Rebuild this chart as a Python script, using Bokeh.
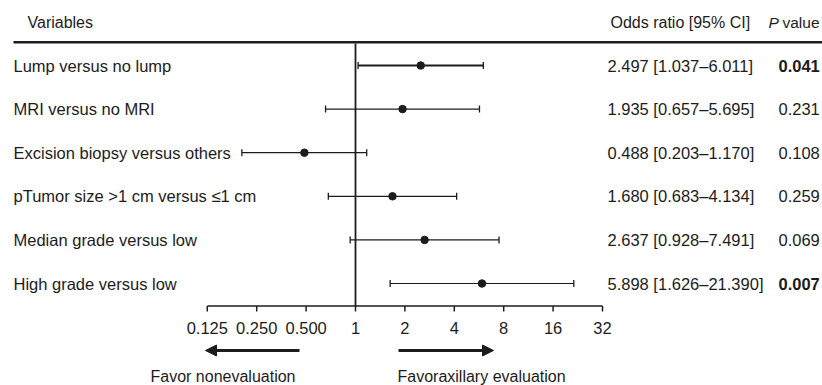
import numpy as np
from bokeh.plotting import figure
from bokeh.models import Range1d, ColumnDataSource, Arrow, NormalHead
from bokeh.core.properties import value
from bokeh.embed import file_html
from bokeh.resources import INLINE

# ---- data ----
variables = ["Lump versus no lump", "MRI versus no MRI", "Excision biopsy versus others",
             "pTumor size >1 cm versus \u22641 cm", "Median grade versus low", "High grade versus low"]
odds = [2.497, 1.935, 0.488, 1.680, 2.637, 5.898]
lower = [1.037, 0.657, 0.203, 0.683, 0.928, 1.626]
upper = [6.011, 5.695, 1.170, 4.134, 7.491, 21.390]
p_values = [0.041, 0.231, 0.108, 0.259, 0.069, 0.007]
ticks = [0.125, 0.25, 0.5, 1, 2, 4, 8, 16, 32]
tick_labels = ["0.125", "0.250", "0.500", "1", "2", "4", "8", "16", "32"]
left_note = "Favor nonevaluation"
right_note = "Favoraxillary evaluation"

W, H = 822, 385
X1PX, PX_PER_DOUBLING = 355, 49.4
ROW0PX, ROWPX = 65, 43.6

def px2x(px):
    return 2 ** ((px - X1PX) / PX_PER_DOUBLING)

def py(px):
    return (px - ROW0PX) / ROWPX

FONT = value("Liberation Sans")
INK = "#1c1c1c"

p = figure(width=W, height=H, x_axis_type="log", x_axis_location=None, y_axis_location=None,
           x_range=Range1d(px2x(0), px2x(W)), y_range=Range1d(py(H), py(0)),
           toolbar_location=None, output_backend="svg", min_border=0)
p.outline_line_color = None
p.xgrid.visible = False
p.ygrid.visible = False
p.background_fill_color = "white"
p.border_fill_color = "white"

rows = list(range(len(variables)))
or_text = [f"{o:.3f} [{l:.3f}\u2013{u:.3f}]" for o, l, u in zip(odds, lower, upper)]
p_text = [f"{v:.3f}" for v in p_values]
p_style = ["bold" if v < 0.05 else "normal" for v in p_values]
lw = [2.0 if v < 0.05 and u < 10 else 1.2 for v, u in zip(p_values, upper)]

src = ColumnDataSource(dict(var=variables, odds=odds, lower=lower, upper=upper, row=rows,
                            or_text=or_text, p_text=p_text, p_style=p_style, lw=lw))

# header line and header texts
p.segment(x0=[px2x(13)], y0=[py(41.7)], x1=[px2x(W)], y1=[py(41.7)], line_color=INK, line_width=2.5)
p.text(x=[px2x(27)], y=[py(22)], text=["Variables"], text_font=FONT, text_font_size="16px",
       text_baseline="middle", text_align="left", text_color=INK)
p.text(x=[px2x(610)], y=[py(22)], text=["Odds ratio [95% CI]"], text_font=FONT, text_font_size="16px",
       text_baseline="middle", text_align="left", text_color=INK)
p.text(x=[px2x(768)], y=[py(22)], text=["P"], text_font=FONT, text_font_size="15.5px",
       text_font_style="italic", text_baseline="middle", text_align="left", text_color=INK)
p.text(x=[px2x(782)], y=[py(22)], text=["value"], text_font=FONT, text_font_size="15.5px",
       text_baseline="middle", text_align="left", text_color=INK)

# reference line at OR = 1
axis_row = py(305.5)
p.segment(x0=[1], y0=[py(43)], x1=[1], y1=[axis_row], line_color=INK, line_width=1.8)

# error bars, caps and points
p.segment(x0="lower", y0="row", x1="upper", y1="row", line_width="lw", line_color=INK, source=src)
p.scatter(x="lower", y="row", marker="dash", angle=np.pi / 2, size=7, line_width=1.3,
          line_color=INK, source=src)
p.scatter(x="upper", y="row", marker="dash", angle=np.pi / 2, size=7, line_width=1.3,
          line_color=INK, source=src)
p.scatter(x="odds", y="row", marker="circle", size=7.5, fill_color=INK, line_color=INK, source=src)

# row texts
p.text(x=px2x(13), y="row", text="var", text_font=FONT, text_font_size="16.5px",
       text_baseline="middle", text_align="left", text_color=INK, source=src)
p.text(x=px2x(607), y="row", text="or_text", text_font=FONT, text_font_size="16.5px",
       text_baseline="middle", text_align="left", text_color=INK, source=src)
p.text(x=px2x(778), y="row", text="p_text", text_font=FONT, text_font_size="16.5px",
       text_font_style="p_style", text_baseline="middle", text_align="left", text_color=INK, source=src)

# x axis (drawn on the log scale)
p.segment(x0=[ticks[0]], y0=[axis_row], x1=[ticks[-1]], y1=[axis_row], line_color=INK, line_width=1.5)
p.segment(x0=ticks, y0=[axis_row] * len(ticks), x1=ticks, y1=[py(311)] * len(ticks),
          line_color=INK, line_width=1.5)
p.text(x=ticks, y=[py(327)] * len(ticks), text=tick_labels, text_font=FONT, text_font_size="16.5px",
       text_baseline="middle", text_align="center", text_color=INK)

# direction arrows and notes
head_l = NormalHead(size=11, fill_color=INK, line_color=INK)
head_r = NormalHead(size=11, fill_color=INK, line_color=INK)
p.add_layout(Arrow(end=head_l, x_start=px2x(299), y_start=py(350), x_end=px2x(205), y_end=py(350),
                   line_width=3, line_color=INK))
p.add_layout(Arrow(end=head_r, x_start=px2x(398), y_start=py(350), x_end=px2x(493), y_end=py(350),
                   line_width=3, line_color=INK))
p.text(x=[px2x(150)], y=[py(376)], text=[left_note], text_font=FONT, text_font_size="16px",
       text_baseline="middle", text_align="left", text_color=INK)
p.text(x=[px2x(397)], y=[py(376)], text=[right_note], text_font=FONT, text_font_size="16px",
       text_baseline="middle", text_align="left", text_color=INK)

open("out.html", "w").write(file_html(p, INLINE))
